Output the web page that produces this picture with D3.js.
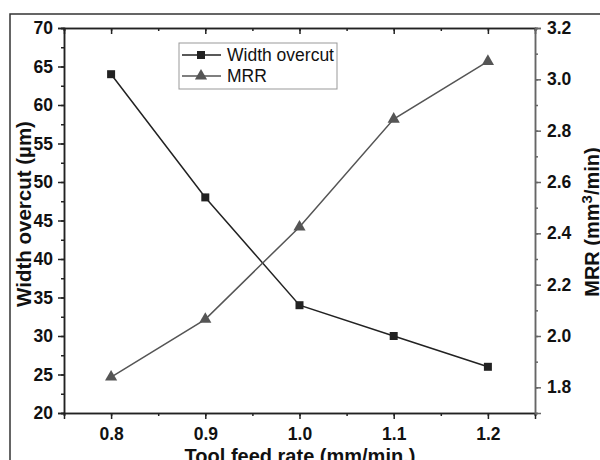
<!DOCTYPE html>
<html><head><meta charset="utf-8">
<script src="https://cdn.jsdelivr.net/npm/d3@7"></script>
<style>body{margin:0;background:#fff}svg{display:block}</style>
</head><body>
<svg id="c" width="600" height="460"></svg>
<script>
const feedRate = [0.8, 0.9, 1.0, 1.1, 1.2];
const widthOvercut = [64, 48, 34, 30, 26];
const mrr = [1.84, 2.065, 2.425, 2.845, 3.07];
const xTicks = [0.8, 0.9, 1.0, 1.1, 1.2];
const leftTicks = [20, 25, 30, 35, 40, 45, 50, 55, 60, 65, 70];
const rightTicks = [1.8, 2.0, 2.2, 2.4, 2.6, 2.8, 3.0, 3.2];
const seriesNames = ["Width overcut", "MRR"];

const svg = d3.select("#c");
const L = 64, R = 535, T = 28, B = 413;
const x = d3.scaleLinear().domain([0.75, 1.25]).range([L, R]);
const yL = d3.scaleLinear().domain([20, 70]).range([B, T]);
const yR = d3.scaleLinear().domain([1.7, 3.2]).range([B, T]);
const font = "Arial, 'Liberation Sans', sans-serif";
const c1 = "#222", c2 = "#555";

// outer frame
svg.append("rect").attr("x", 10).attr("y", 14).attr("width", 620).attr("height", 480)
  .attr("fill", "none").attr("stroke", "#333").attr("stroke-width", 1.5);

function styleAxis(g, col) {
  g.selectAll("path.domain").attr("stroke", col).attr("stroke-width", 1.5);
  g.selectAll(".tick line").attr("stroke", col).attr("stroke-width", 1.5);
  g.selectAll(".tick text").attr("font-family", font).attr("font-weight", "bold")
    .attr("font-size", 17.5).attr("fill", "#111");
}
const xMinor = d3.range(0.75, 1.2501, 0.05).map(v => +v.toFixed(3));
// bottom axis
svg.append("g").attr("transform", `translate(0,${B})`)
  .call(d3.axisBottom(x).tickValues(xMinor).tickSize(3).tickFormat(""))
  .call(g => styleAxis(g, c1));
svg.append("g").attr("transform", `translate(0,${B})`)
  .call(d3.axisBottom(x).tickValues(xTicks).tickSize(6).tickPadding(9).tickFormat(d3.format(".1f")))
  .call(g => styleAxis(g, c1));
// top axis (inward ticks)
svg.append("g").attr("transform", `translate(0,${T})`)
  .call(d3.axisBottom(x).tickValues(xMinor).tickSize(3).tickFormat(""))
  .call(g => styleAxis(g, c1));
svg.append("g").attr("transform", `translate(0,${T})`)
  .call(d3.axisBottom(x).tickValues(xTicks).tickSize(6).tickFormat(""))
  .call(g => styleAxis(g, c1));
// left axis
const leftMinor = d3.range(20, 70.01, 2.5);
svg.append("g").attr("transform", `translate(${L},0)`)
  .call(d3.axisLeft(yL).tickValues(leftMinor).tickSize(3).tickFormat(""))
  .call(g => styleAxis(g, c1));
svg.append("g").attr("transform", `translate(${L},0)`)
  .call(d3.axisLeft(yL).tickValues(leftTicks).tickSize(6).tickPadding(5))
  .call(g => styleAxis(g, c1));
// right axis
const rightMinor = d3.range(1.7, 3.201, 0.1).map(v => +v.toFixed(2));
svg.append("g").attr("transform", `translate(${R},0)`)
  .call(d3.axisRight(yR).tickValues(rightMinor).tickSize(3).tickFormat(""))
  .call(g => styleAxis(g, "#666"));
svg.append("g").attr("transform", `translate(${R},0)`)
  .call(d3.axisRight(yR).tickValues(rightTicks).tickSize(6).tickPadding(6).tickFormat(d3.format(".1f")))
  .call(g => styleAxis(g, "#666"));

// lines
const d1 = feedRate.map((f, i) => [f, widthOvercut[i]]);
const d2 = feedRate.map((f, i) => [f, mrr[i]]);
svg.append("path").datum(d1).attr("fill", "none").attr("stroke", c1).attr("stroke-width", 1.5)
  .attr("d", d3.line().x(d => x(d[0])).y(d => yL(d[1])));
svg.append("path").datum(d2).attr("fill", "none").attr("stroke", c2).attr("stroke-width", 1.5)
  .attr("d", d3.line().x(d => x(d[0])).y(d => yR(d[1])));
const sq = d3.symbol().type(d3.symbolSquare).size(64);
const tri = d3.symbol().type(d3.symbolTriangle).size(64);
svg.selectAll(".sq").data(d1).join("path").attr("d", sq)
  .attr("transform", d => `translate(${x(d[0])},${yL(d[1])})`).attr("fill", c1);
svg.selectAll(".tri").data(d2).join("path").attr("d", tri)
  .attr("transform", d => `translate(${x(d[0])},${yR(d[1])})`).attr("fill", c2);

// legend
const lg = svg.append("g");
lg.append("rect").attr("x", 179).attr("y", 43).attr("width", 158).attr("height", 46)
  .attr("fill", "#fff").attr("stroke", "#999").attr("stroke-width", 1);
[[c1, sq], [c2, tri]].forEach((s, i) => {
  const yy = 55 + i * 21;
  lg.append("line").attr("x1", 182).attr("x2", 221).attr("y1", yy).attr("y2", yy)
    .attr("stroke", s[0]).attr("stroke-width", 1.5);
  lg.append("path").attr("d", s[1]).attr("transform", `translate(201,${yy})`).attr("fill", s[0]);
  lg.append("text").attr("x", 227).attr("y", yy + 6).text(seriesNames[i])
    .attr("font-family", font).attr("font-size", 17.5).attr("fill", "#111");
});

// axis titles
svg.append("text").attr("x", 300).attr("y", 463).attr("text-anchor", "middle")
  .attr("font-family", font).attr("font-weight", "bold").attr("font-size", 20).attr("fill", "#111")
  .text("Tool feed rate (mm/min.)");
svg.append("text").attr("transform", "translate(31,214) rotate(-90)").attr("text-anchor", "middle")
  .attr("font-family", font).attr("font-weight", "bold").attr("font-size", 20.5).attr("fill", "#111")
  .text("Width overcut (µm)");
const rt = svg.append("text").attr("transform", "translate(599,222) rotate(-90)").attr("text-anchor", "middle")
  .attr("font-family", font).attr("font-weight", "bold").attr("font-size", 20).attr("fill", "#111");
rt.append("tspan").text("MRR (mm");
rt.append("tspan").attr("dy", -7).attr("font-size", 15).text("3");
rt.append("tspan").attr("dy", 7).text("/min)");
</script>
</body></html>
